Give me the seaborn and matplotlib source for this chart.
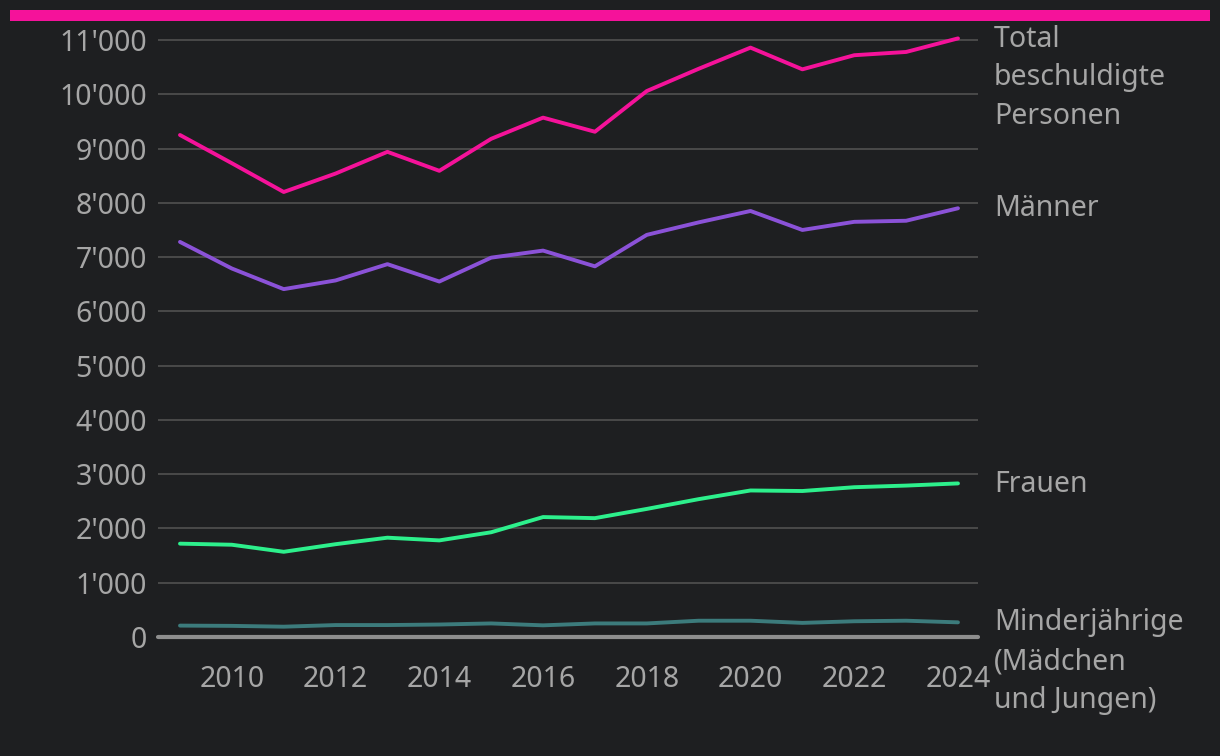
import matplotlib
matplotlib.use("Agg")
import matplotlib.pyplot as plt
import matplotlib.patches as mpatches
from matplotlib.ticker import FuncFormatter
import seaborn as sns
import pandas as pd

years = list(range(2009, 2025))
total = [9250, 8730, 8200, 8540, 8940, 8590, 9180, 9570, 9310, 10060, 10470, 10860, 10460, 10720, 10780, 11030]
maenner = [7280, 6790, 6410, 6570, 6870, 6550, 6990, 7120, 6830, 7410, 7640, 7850, 7500, 7650, 7670, 7900]
frauen = [1720, 1700, 1570, 1710, 1830, 1780, 1930, 2210, 2190, 2360, 2540, 2700, 2690, 2760, 2790, 2830]
minder = [210, 205, 190, 220, 220, 230, 250, 215, 250, 250, 300, 300, 260, 290, 300, 270]

series_names = ["Total\nbeschuldigte\nPersonen", "Männer", "Frauen", "Minderjährige\n(Mädchen\nund Jungen)"]
series_values = [total, maenner, frauen, minder]
colors = ["#f5129a", "#8b52d8", "#2df08c", "#3c7b7c"]
x_ticks = [2010, 2012, 2014, 2016, 2018, 2020, 2022, 2024]
y_ticks = list(range(0, 11001, 1000))

rows = []
for name, vals in zip(series_names, series_values):
    for y, v in zip(years, vals):
        rows.append({"Jahr": y, "Wert": v, "Serie": name})
df = pd.DataFrame(rows)

BG = "#1e1f21"
TXT = "#a6a6a6"
FS = 20.5

sns.set_theme(style="dark")
plt.rcParams["font.family"] = ["Noto Sans", "DejaVu Sans"]

fig = plt.figure(figsize=(12.2, 7.56), dpi=100, facecolor=BG)
ax = fig.add_axes([158 / 1220, 1 - 637 / 756, (978 - 158) / 1220, (637 - 34.6) / 756])
ax.set_facecolor(BG)

sns.lineplot(data=df, x="Jahr", y="Wert", hue="Serie", palette=dict(zip(series_names, colors)),
             linewidth=2.8, legend=False, ax=ax, zorder=3)

ax.set_xlim(2008.576, 2024.386)
ax.set_ylim(0, 11100)
ax.set_xticks(x_ticks)
ax.set_yticks(y_ticks)
ax.yaxis.set_major_formatter(FuncFormatter(lambda v, p: f"{int(v):,}".replace(",", "'")))
ax.grid(False)
for t in y_ticks[1:]:
    ax.axhline(t, color="#555555", linewidth=1.1, zorder=1)
ax.axhline(0, color="#8e8e8e", linewidth=3, zorder=4, clip_on=False)
ax.tick_params(axis="both", length=0, labelsize=FS, labelcolor=TXT)
ax.tick_params(axis="y", pad=8)
ax.tick_params(axis="x", pad=20)
for s in ax.spines.values():
    s.set_visible(False)
ax.set_xlabel("")
ax.set_ylabel("")

for name, vals in zip(series_names, series_values):
    ax.annotate(name, xy=(years[-1], vals[-1]), xytext=(26, 10), textcoords="offset points",
                ha="left", va="top", fontsize=FS, color=TXT, linespacing=1.45,
                annotation_clip=False)

fig.patches.append(mpatches.Rectangle((10 / 1220, 1 - 21 / 756), 1200 / 1220, 11 / 756,
                                      transform=fig.transFigure, facecolor="#f5129a",
                                      edgecolor="none"))

fig.savefig("out.png", dpi=100, facecolor=BG)
